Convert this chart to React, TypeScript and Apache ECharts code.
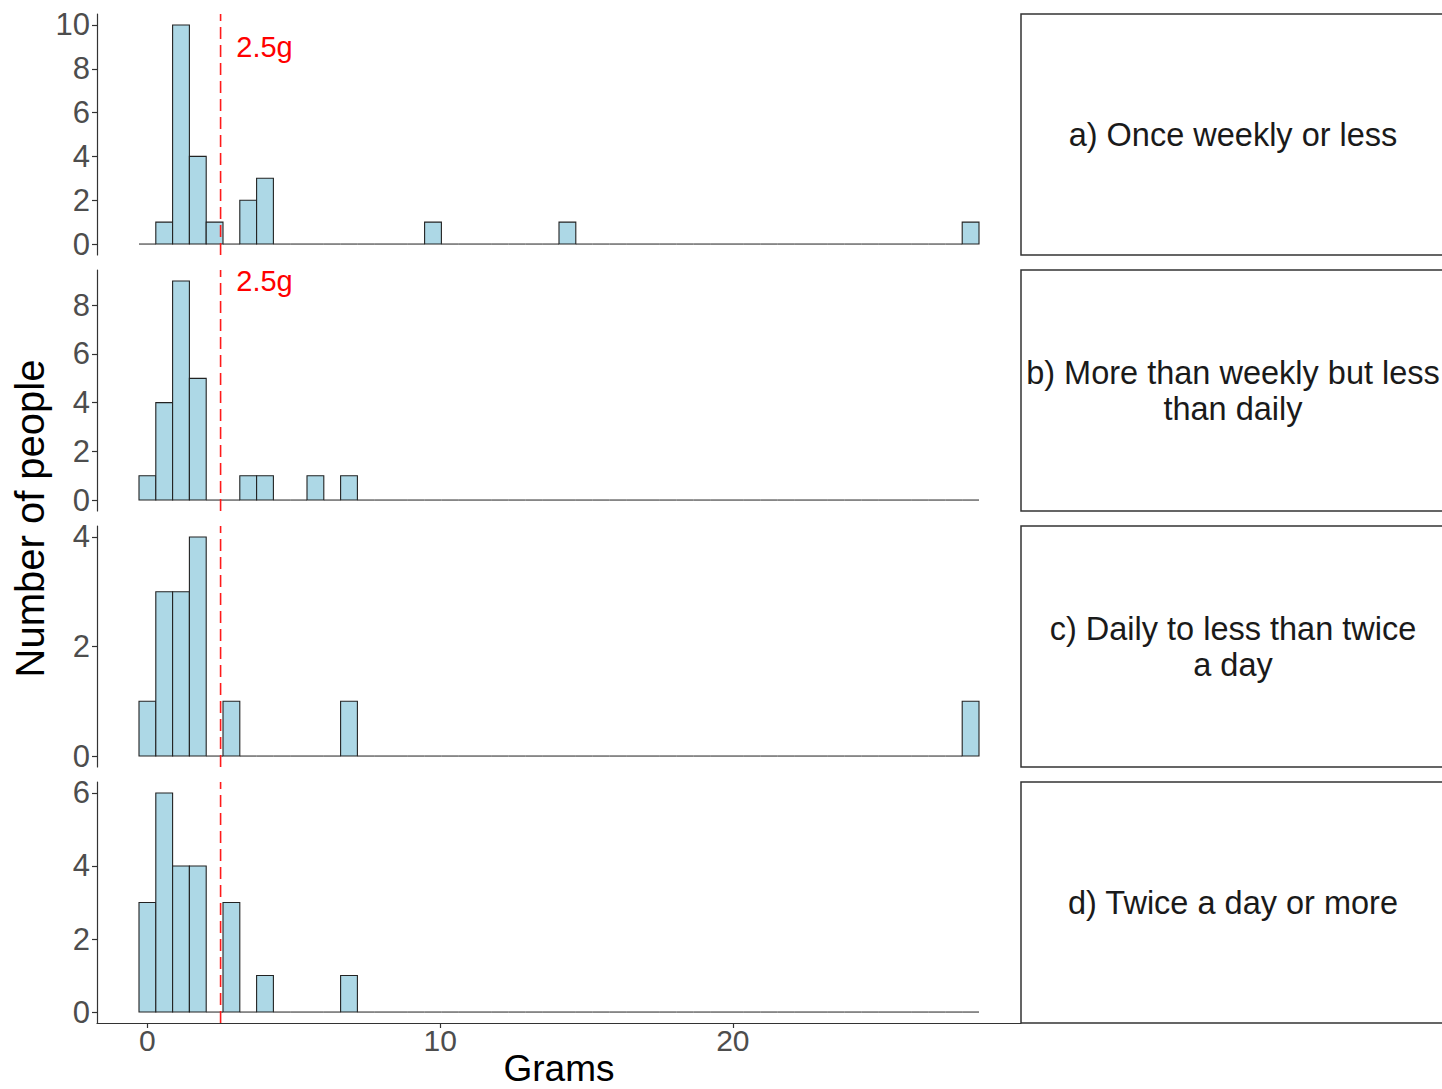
import React, { useEffect, useRef } from "react";
import * as echarts from "echarts";

// ---- data ----
const BIN_WIDTH = 0.5739; // grams per histogram bin (50 bins centred on 0 .. 28.12)
const THRESHOLD = 2.5;
const THRESHOLD_LABEL = "2.5g";
const ANNOT_X = 4;
const ANNOT_Y = 9;

const countsA = [
  0, 1, 10, 4, 1, 0, 2, 3, 0, 0,
  0, 0, 0, 0, 0, 0, 0, 1, 0, 0,
  0, 0, 0, 0, 0, 1, 0, 0, 0, 0,
  0, 0, 0, 0, 0, 0, 0, 0, 0, 0,
  0, 0, 0, 0, 0, 0, 0, 0, 0, 1,
];
const countsB = [
  1, 4, 9, 5, 0, 0, 1, 1, 0, 0,
  1, 0, 1, 0, 0, 0, 0, 0, 0, 0,
  0, 0, 0, 0, 0, 0, 0, 0, 0, 0,
  0, 0, 0, 0, 0, 0, 0, 0, 0, 0,
  0, 0, 0, 0, 0, 0, 0, 0, 0, 0,
];
const countsC = [
  1, 3, 3, 4, 0, 1, 0, 0, 0, 0,
  0, 0, 1, 0, 0, 0, 0, 0, 0, 0,
  0, 0, 0, 0, 0, 0, 0, 0, 0, 0,
  0, 0, 0, 0, 0, 0, 0, 0, 0, 0,
  0, 0, 0, 0, 0, 0, 0, 0, 0, 1,
];
const countsD = [
  3, 6, 4, 4, 0, 3, 0, 1, 0, 0,
  0, 0, 1, 0, 0, 0, 0, 0, 0, 0,
  0, 0, 0, 0, 0, 0, 0, 0, 0, 0,
  0, 0, 0, 0, 0, 0, 0, 0, 0, 0,
  0, 0, 0, 0, 0, 0, 0, 0, 0, 0,
];

const panelCounts = [countsA, countsB, countsC, countsD];
const panelLabels = [
  "a) Once weekly or less",
  "b) More than weekly but less\nthan daily",
  "c) Daily to less than twice\na day",
  "d) Twice a day or more",
];
const panelYMax = [10, 9, 4, 6];
const panelYTicks = [
  [0, 2, 4, 6, 8, 10],
  [0, 2, 4, 6, 8],
  [0, 2, 4],
  [0, 2, 4, 6],
];
const panelHasAnnotation = [true, true, false, false];
const xTicks = [0, 10, 20];
const xTitle = "Grams";
const yTitle = "Number of people";

// ---- layout / style ----
const FONT = "'Liberation Sans', Arial, Helvetica, sans-serif";
const GRID_LEFT = 97;
const GRID_RIGHT_EDGE = 1021;
const PANEL_TOP = 14;
const PANEL_STEP = 256;
const PANEL_H = 241;
const STRIP_CENTER_X = 1233;
const X_TITLE_Y = 1068;

export default function App() {
  const ref = useRef<HTMLDivElement>(null);

  useEffect(() => {
    if (!ref.current) return;
    const chart = echarts.init(ref.current, undefined, { renderer: "svg" });

    const nBins = countsA.length;
    const dataMin = -BIN_WIDTH / 2;
    const dataMax = (nBins - 1) * BIN_WIDTH + BIN_WIDTH / 2;
    const span = dataMax - dataMin;
    const X_MIN = dataMin - 0.05 * span;
    const X_MAX = dataMax + 0.05 * span;

    const grids: any[] = [];
    const xAxes: any[] = [];
    const yAxes: any[] = [];
    const series: any[] = [];
    const graphics: any[] = [];

    panelCounts.forEach((counts, i) => {
      const top = PANEL_TOP + PANEL_STEP * i;
      const yMax = panelYMax[i];
      const yLo = -0.05 * yMax;
      const yHi = 1.05 * yMax;
      const isBottom = i === panelCounts.length - 1;

      grids.push({
        left: GRID_LEFT,
        width: GRID_RIGHT_EDGE - GRID_LEFT,
        top,
        height: PANEL_H,
        containLabel: false,
        outerBoundsMode: "none",
      });

      xAxes.push({
        type: "value",
        gridIndex: i,
        min: X_MIN,
        max: X_MAX,
        splitLine: { show: false },
        axisLine: { show: isBottom, onZero: false, lineStyle: { color: "#333", width: 1.2 } },
        axisTick: {
          show: isBottom,
          length: 5,
          customValues: xTicks,
          lineStyle: { color: "#333", width: 1.2 },
        },
        axisLabel: {
          show: isBottom,
          customValues: xTicks,
          fontSize: 30,
          color: "#4d4d4d",
          margin: 2,
          fontFamily: FONT,
        },
      });

      yAxes.push({
        type: "value",
        gridIndex: i,
        min: yLo,
        max: yHi,
        splitLine: { show: false },
        axisLine: { show: true, onZero: false, lineStyle: { color: "#333", width: 1.2 } },
        axisTick: {
          show: true,
          length: 5,
          customValues: panelYTicks[i],
          lineStyle: { color: "#333", width: 1.2 },
        },
        axisLabel: {
          customValues: panelYTicks[i],
          fontSize: 31,
          color: "#4d4d4d",
          margin: 7,
          fontFamily: FONT,
        },
      });

      const binData = counts.map((c, k) => [
        k * BIN_WIDTH - BIN_WIDTH / 2,
        k * BIN_WIDTH + BIN_WIDTH / 2,
        c,
      ]);

      series.push({
        type: "custom",
        xAxisIndex: i,
        yAxisIndex: i,
        encode: { x: [0, 1], y: 2 },
        data: binData,
        silent: true,
        renderItem: (_params: any, api: any) => {
          const x0 = api.value(0);
          const x1 = api.value(1);
          const c = api.value(2);
          const pTop = api.coord([x0, c]);
          const pBot = api.coord([x1, 0]);
          if (c === 0) {
            return {
              type: "line",
              shape: { x1: pTop[0], y1: pBot[1], x2: pBot[0], y2: pBot[1] },
              style: { stroke: "#333", lineWidth: 1.1 },
            };
          }
          return {
            type: "rect",
            shape: {
              x: pTop[0],
              y: pTop[1],
              width: pBot[0] - pTop[0],
              height: pBot[1] - pTop[1],
            },
            style: { fill: "#add8e6", stroke: "#222", lineWidth: 1.1 },
          };
        },
      });

      series.push({
        type: "line",
        xAxisIndex: i,
        yAxisIndex: i,
        data: [
          [THRESHOLD, yLo],
          [THRESHOLD, yHi],
        ],
        showSymbol: false,
        silent: true,
        lineStyle: { color: "#ff1a1a", width: 1.6, type: [12, 6] },
        z: 5,
      });

      if (panelHasAnnotation[i]) {
        series.push({
          type: "custom",
          xAxisIndex: i,
          yAxisIndex: i,
          data: [[ANNOT_X, ANNOT_Y]],
          silent: true,
          z: 6,
          renderItem: (_params: any, api: any) => {
            const p = api.coord([api.value(0), api.value(1)]);
            return {
              type: "text",
              x: p[0],
              y: p[1],
              style: {
                text: THRESHOLD_LABEL,
                fill: "#ff0000",
                fontSize: 29,
                fontFamily: FONT,
                align: "center",
                verticalAlign: "middle",
              },
            };
          },
        });
      }

      graphics.push({
        type: "rect",
        shape: { x: GRID_RIGHT_EDGE, y: top, width: 440, height: PANEL_H },
        style: { fill: "#fff", stroke: "#333", lineWidth: 1.5 },
        silent: true,
      });
      graphics.push({
        type: "text",
        x: STRIP_CENTER_X,
        y: top + PANEL_H / 2,
        style: {
          text: panelLabels[i],
          fill: "#1a1a1a",
          fontSize: 32.5,
          lineHeight: 36,
          fontFamily: FONT,
          align: "center",
          verticalAlign: "middle",
        },
        silent: true,
      });
    });

    graphics.push({
      type: "text",
      x: 30,
      y: PANEL_TOP + (PANEL_STEP * 3 + PANEL_H) / 2,
      rotation: Math.PI / 2,
      style: {
        text: yTitle,
        fill: "#000",
        fontSize: 40,
        fontFamily: FONT,
        align: "center",
        verticalAlign: "middle",
      },
      silent: true,
    });

    graphics.push({
      type: "text",
      x: (GRID_LEFT + GRID_RIGHT_EDGE) / 2,
      y: X_TITLE_Y,
      style: {
        text: xTitle,
        fill: "#000",
        fontSize: 37,
        lineHeight: 38,
        fontFamily: FONT,
        align: "center",
        verticalAlign: "middle",
      },
      silent: true,
    });

    chart.setOption({
      animation: false,
      backgroundColor: "#fff",
      textStyle: { fontFamily: FONT },
      grid: grids,
      xAxis: xAxes,
      yAxis: yAxes,
      series,
      graphic: graphics,
    });

    return () => chart.dispose();
  }, []);

  return (
    <div
      ref={ref}
      style={{ position: "absolute", left: 0, top: 0, width: 1442, height: 1089 }}
    />
  );
}
